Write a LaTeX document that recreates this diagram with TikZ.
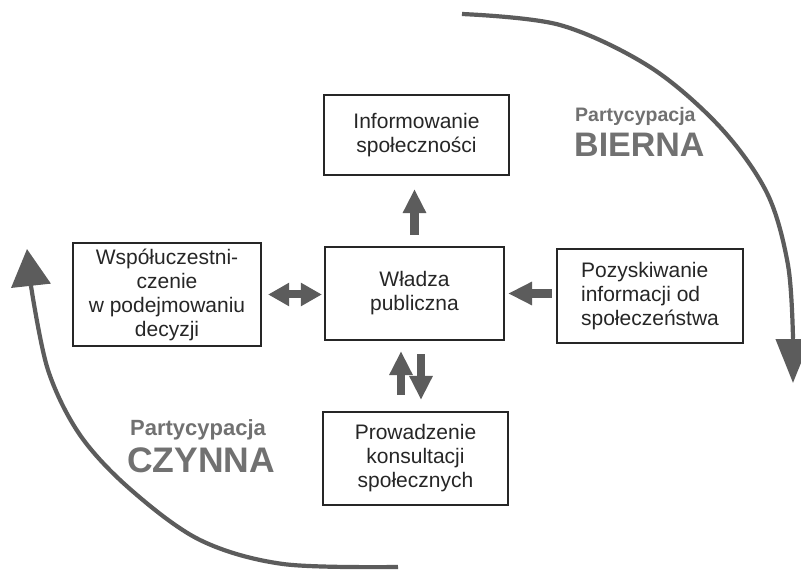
\documentclass[tikz,border=0pt]{standalone}
\usepackage{fontspec}
\setmainfont{Liberation Sans}
\usetikzlibrary{arrows.meta}
\definecolor{arrowgray}{HTML}{5C5C5C}
\definecolor{labelgray}{HTML}{717171}
\definecolor{textdark}{HTML}{262626}
\begin{document}
\begin{tikzpicture}[x=1pt,y=-1pt,
  box/.style={draw=textdark, line width=2.2pt, inner sep=0pt, align=center,
    text=textdark, font=\fontsize{21}{24}\selectfont},
  fatarrow/.style={draw=arrowgray, line width=8.5pt, -{Triangle[length=24pt,width=22pt]}},
  fatdouble/.style={draw=arrowgray, line width=8pt, {Triangle[length=21pt,width=22pt]}-{Triangle[length=21pt,width=22pt]}},
  bigarc/.style={draw=arrowgray, line width=4.2pt},
  smalllabel/.style={anchor=base west, inner sep=0pt, text=labelgray, font=\fontsize{19.5}{24}\selectfont\bfseries},
  biglabel/.style={anchor=base west, inner sep=0pt, text=labelgray, font=\fontsize{34}{38}\selectfont\bfseries}]
\fill[white] (0,0) rectangle (801,572);
\useasboundingbox (0,0) rectangle (801,572);

% boxes
\node[box, minimum width=185pt, minimum height=80pt] (info) at (416.5,135) {Informowanie\\społeczności};
\node[box, minimum width=179pt, minimum height=93pt] (wladza) at (414.5,293.5) {Władza\\publiczna};
\node[box, minimum width=186pt, minimum height=94pt, align=left] (pozysk) at (650,296) {Pozyskiwanie\\informacji od\\społeczeństwa};
\node[box, minimum width=188pt, minimum height=103pt] (wspol) at (167,294.5) {Współuczestni-\\czenie\\w podejmowaniu\\decyzji};
\node[box, minimum width=185pt, minimum height=93pt] (prow) at (415.5,458.5) {Prowadzenie\\konsultacji\\społecznych};

% small arrows
\draw[fatarrow, shorten <=11pt, shorten >=13pt] (wladza.north) -- (wladza.north |- info.south);
\draw[fatdouble, shorten <=6pt, shorten >=2pt] (wspol.east) -- (wspol.east -| wladza.west);
\draw[fatarrow, shorten <=4pt, shorten >=3pt] (wladza.east -| pozysk.west) -- (wladza.east);
\draw[fatarrow, shorten <=16pt, shorten >=10pt] ([xshift=-13.5pt]wladza.south |- prow.north) -- ([xshift=-13.5pt]wladza.south);
\draw[fatarrow, shorten <=13pt, shorten >=11pt] ([xshift=6.5pt]wladza.south) -- ([xshift=6.5pt]wladza.south |- prow.north);

% big arcs
\coordinate (re) at (793,338);
\coordinate (rt) at (793,383);
\draw[bigarc] plot[smooth, tension=0.55] coordinates {(462,14) (560,25) (650,67) (720,127) (767,193) (788,265) (793,338)};
\draw[bigarc, -{Triangle[length=44pt,width=34pt]}] (re) -- (rt);

\coordinate (le) at (31,286);
\coordinate (lt) at (27,249);
\draw[bigarc] plot[smooth, tension=0.55] coordinates {(398,567) (283,564) (200,540) (130,489) (80,435) (48,370) (31,286)};
\draw[bigarc, -{Triangle[length=37pt,width=39pt]}] (le) -- (lt);

% labels
\node[smalllabel] (p1) at (575,122) {Partycypacja};
\node[biglabel] (b1) at (574,157) {BIERNA};
\node[smalllabel, font=\fontsize{22}{24}\selectfont\bfseries] (p2) at (130,435) {Partycypacja};
\node[biglabel, font=\fontsize{35.5}{38}\selectfont\bfseries] (c2) at (127,472) {CZYNNA};
\end{tikzpicture}
\end{document}
